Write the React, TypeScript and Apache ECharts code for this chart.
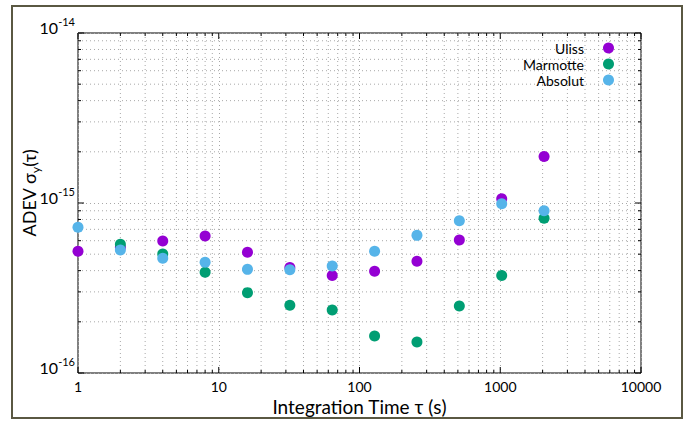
import React, { useEffect, useRef } from "react";
import * as echarts from "echarts";

const taus = [1, 2, 4, 8, 16, 32, 64, 128, 256, 512, 1024, 2048];
const uliss = [5.2e-16, 5.5e-16, 5.98e-16, 6.39e-16, 5.13e-16, 4.18e-16, 3.74e-16, 3.97e-16, 4.54e-16, 6.06e-16, 1.06e-15, 1.88e-15];
const marmotte = [null, 5.71e-16, 5.01e-16, 3.91e-16, 2.97e-16, 2.5e-16, 2.35e-16, 1.65e-16, 1.52e-16, 2.48e-16, 3.74e-16, 8.13e-16];
const absolut = [7.19e-16, 5.29e-16, 4.73e-16, 4.48e-16, 4.07e-16, 4.05e-16, 4.26e-16, 5.2e-16, 6.45e-16, 7.87e-16, 9.91e-16, 9.01e-16];
const seriesNames = ["Uliss", "Marmotte", "Absolut"];
const seriesColors = ["#9400d3", "#009e73", "#56b4e9"];
const xMajor = [1, 10, 100, 1000, 10000];
const yMajor = [1e-16, 1e-15, 1e-14];
const minorFactors = [2, 3, 4, 5, 6, 7, 8, 9];

const FONT = "Lato, 'Noto Sans', sans-serif";

export default function App() {
  const ref = useRef<HTMLDivElement>(null);
  useEffect(() => {
    if (!ref.current) return;
    const chart = echarts.init(ref.current, undefined, { renderer: "svg" });
    const seriesData = [uliss, marmotte, absolut];

    const xMinor: number[] = [];
    for (let i = 0; i < xMajor.length - 1; i++) minorFactors.forEach((k) => xMinor.push(k * xMajor[i]));
    const yMinor: number[] = [];
    for (let i = 0; i < yMajor.length - 1; i++) minorFactors.forEach((k) => yMinor.push(k * yMajor[i]));

    const gridStyle = { stroke: "#a8a8a8", lineWidth: 1, lineDash: [1, 3] };
    const tickStyle = { stroke: "#000", lineWidth: 1 };

    const renderGrid = (params: any, api: any) => {
      const cs = params.coordSys;
      const top = cs.y, bottom = cs.y + cs.height, left = cs.x, right = cs.x + cs.width;
      const children: any[] = [];
      xMinor.forEach((v) => {
        const px = api.coord([v, 1e-15])[0];
        children.push({ type: "line", shape: { x1: px, y1: top, x2: px, y2: bottom }, style: gridStyle, silent: true });
      });
      yMinor.forEach((v) => {
        const py = api.coord([10, v])[1];
        children.push({ type: "line", shape: { x1: left, y1: py, x2: right, y2: py }, style: gridStyle, silent: true });
      });
      const addX = (v: number, len: number) => {
        const px = api.coord([v, 1e-15])[0];
        children.push({ type: "line", shape: { x1: px, y1: bottom, x2: px, y2: bottom - len }, style: tickStyle, silent: true });
        children.push({ type: "line", shape: { x1: px, y1: top, x2: px, y2: top + len }, style: tickStyle, silent: true });
      };
      const addY = (v: number, len: number) => {
        const py = api.coord([10, v])[1];
        children.push({ type: "line", shape: { x1: left, y1: py, x2: left + len, y2: py }, style: tickStyle, silent: true });
        children.push({ type: "line", shape: { x1: right, y1: py, x2: right - len, y2: py }, style: tickStyle, silent: true });
      };
      xMinor.forEach((v) => addX(v, 3));
      xMajor.forEach((v) => addX(v, 6));
      yMinor.forEach((v) => addY(v, 3));
      yMajor.forEach((v) => addY(v, 6));
      return { type: "group", children };
    };

    const option: any = {
      animation: false,
      backgroundColor: "#ffffff",
      textStyle: { fontFamily: FONT },
      graphic: [
        {
          type: "rect",
          shape: { x: 12, y: 6, width: 670, height: 412 },
          style: { fill: "none", stroke: "#5a5842", lineWidth: 2 },
          silent: true,
          z: 100,
        },
      ],
      grid: {
        left: 78,
        right: 57,
        top: 33,
        bottom: 48,
        show: true,
        borderColor: "#000",
        borderWidth: 1,
        backgroundColor: "transparent",
      },
      legend: {
        orient: "vertical",
        right: 84,
        top: 40,
        padding: 0,
        align: "right",
        itemGap: 0,
        itemWidth: 11,
        itemHeight: 11,
        icon: "circle",
        data: seriesNames,
        textStyle: { fontFamily: FONT, fontSize: 14, color: "#000", lineHeight: 16, padding: [0, 14, 0, 0] },
      },
      xAxis: {
        type: "log",
        logBase: 10,
        min: 1,
        max: 10000,
        name: "Integration Time τ (s)",
        nameLocation: "middle",
        nameGap: 24,
        nameMoveOverlap: false,
        nameTextStyle: { fontFamily: FONT, fontSize: 19, color: "#000", lineHeight: 19 },
        axisLine: { show: false },
        axisTick: { show: false },
        axisLabel: {
          fontFamily: FONT,
          fontSize: 14,
          lineHeight: 14,
          color: "#000",
          margin: 6,
          formatter: (v: number) => String(Math.round(v)),
        },
        splitLine: { show: true, lineStyle: { color: "#a8a8a8", type: [1, 3], width: 1 } },
      },
      yAxis: {
        type: "log",
        logBase: 10,
        min: 1e-16,
        max: 1e-14,
        name: "{a|ADEV σ}{sub|y}{a|(τ)}",
        nameLocation: "middle",
        nameGap: 37,
        nameMoveOverlap: false,
        nameTextStyle: {
          fontFamily: FONT,
          color: "#000",
          padding: [0, 0, 0, 20],
          rich: {
            a: { fontFamily: FONT, fontSize: 18, color: "#000", lineHeight: 24 },
            sub: { fontFamily: FONT, fontSize: 12, color: "#000", lineHeight: 14, verticalAlign: "bottom" },
          },
        },
        axisLine: { show: false },
        axisTick: { show: false },
        axisLabel: {
          margin: 3,
          padding: [0, 0, 12, 0],
          formatter: (v: number) => `{b|10}{s|${Math.round(Math.log10(v))}}`,
          rich: {
            b: { fontFamily: FONT, fontSize: 16, color: "#000", lineHeight: 22 },
            s: { fontFamily: FONT, fontSize: 11, color: "#000", lineHeight: 12, verticalAlign: "top" },
          },
        },
        splitLine: { show: true, lineStyle: { color: "#a8a8a8", type: [1, 3], width: 1 } },
      },
      series: [
        {
          type: "custom",
          name: "grid",
          silent: true,
          z: 1,
          data: [[10, 1e-15]],
          renderItem: renderGrid,
        },
        ...seriesNames.map((name, i) => ({
          type: "scatter",
          name,
          z: 3 + i,
          symbol: "circle",
          symbolSize: 11,
          itemStyle: { color: seriesColors[i], opacity: 1 },
          data: taus
            .map((t, j) => [t, seriesData[i][j]])
            .filter((d) => d[1] !== null),
        })),
      ],
    };
    chart.setOption(option);
    return () => chart.dispose();
  }, []);
  return <div ref={ref} style={{ position: "fixed", left: 0, top: 0, width: 698, height: 421 }} />;
}
